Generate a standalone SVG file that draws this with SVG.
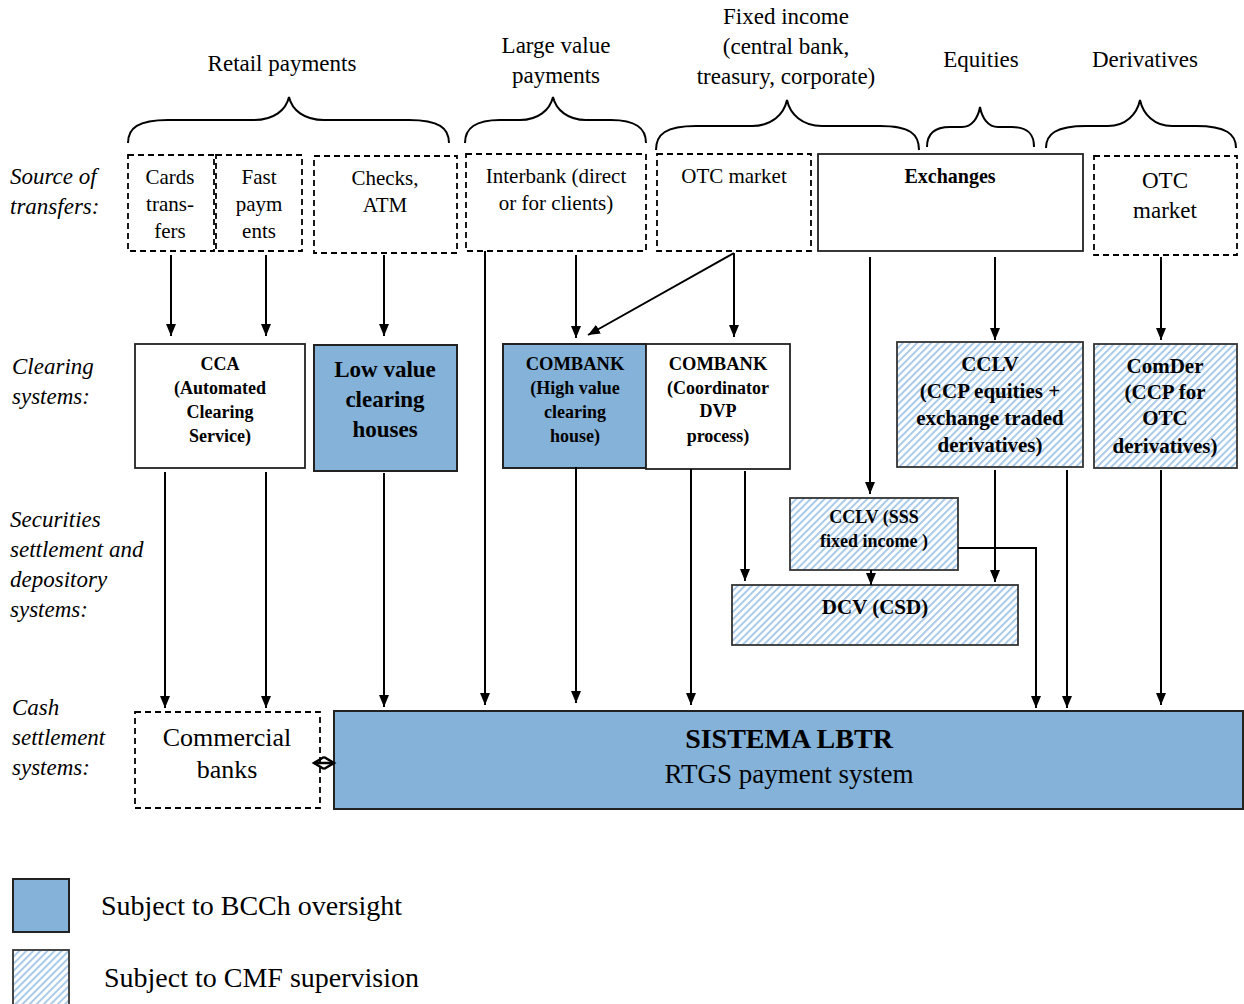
<svg xmlns="http://www.w3.org/2000/svg" width="1244" height="1004" viewBox="0 0 1244 1004">
<style>
text{font-family:"Liberation Serif","Times New Roman",serif;fill:#000}
.t{font-size:23px;text-anchor:middle}
.row{font-size:23px;font-style:italic}
.bx{font-size:21px;text-anchor:middle}
.b{font-weight:bold;text-anchor:middle}
.dash{fill:#fff;stroke:#000;stroke-width:1.8;stroke-dasharray:6 4}
.solid{fill:#fff;stroke:#222;stroke-width:1.8}
.blue{fill:#84b2d8;stroke:#222;stroke-width:2}
.hatch{fill:url(#hp);stroke:#333;stroke-width:1.8}
.brace{fill:none;stroke:#000;stroke-width:2}
.c line,.c path{stroke:#000;stroke-width:2;fill:none}
.arr{marker-end:url(#ah)}
</style>
<defs>
<marker id="ah" viewBox="0 0 12 10" refX="12" refY="5" markerWidth="12" markerHeight="10" markerUnits="userSpaceOnUse" orient="auto"><path d="M0,0 L12,5 L0,10 z" fill="#000"/></marker>
<pattern id="hp" width="5" height="5" patternUnits="userSpaceOnUse" patternTransform="rotate(45)"><rect width="5" height="5" fill="#fff"/><rect width="1.9" height="5" fill="#a6c8e8"/></pattern>
</defs>
<rect width="1244" height="1004" fill="#fff"/>

<g id="category-labels">
<text class="t" x="282" y="71">Retail payments</text>
<text class="t" x="556" y="53">Large value</text>
<text class="t" x="556" y="83">payments</text>
<text class="t" x="786" y="24">Fixed income</text>
<text class="t" x="786" y="54">(central bank,</text>
<text class="t" x="786" y="84">treasury, corporate)</text>
<text class="t" x="981" y="67">Equities</text>
<text class="t" x="1145" y="67">Derivatives</text>
</g>
<g id="braces">
<path class="brace" d="M128,143 C128,128 138,120 168,120 L254,120 C274,120 286,110 289,97 C292,110 304,120 324,120 L409,120 C439,120 449,128 449,143"/>
<path class="brace" d="M465,143 C465,128 475,120 500,120 L520,120 C538,120 550,110 553,97 C556,110 568,120 586,120 L611,120 C636,120 646,128 646,143"/>
<path class="brace" d="M656,150 C656,134 666,126 696,126 L752,126 C772,126 784,114 787,100 C790,114 802,126 822,126 L880,126 C910,126 919,134 919,150"/>
<path class="brace" d="M927,147 C927,134 934,127 950,127 L962,127 C972,127 978,118 980,107 C982,118 988,127 998,127 L1012,127 C1028,127 1034,134 1034,147"/>
<path class="brace" d="M1046,148 C1046,134 1056,126 1086,126 L1108,126 C1126,126 1137,114 1140,100 C1143,114 1154,126 1172,126 L1196,126 C1226,126 1236,134 1236,148"/>
</g>

<g id="row-labels">
<text class="row" x="10" y="184">Source of</text>
<text class="row" x="10" y="214">transfers:</text>
<text class="row" x="12" y="374">Clearing</text>
<text class="row" x="12" y="404">systems:</text>
<text class="row" x="10" y="527">Securities</text>
<text class="row" x="10" y="557">settlement and</text>
<text class="row" x="10" y="587">depository</text>
<text class="row" x="10" y="617">systems:</text>
<text class="row" x="12" y="715">Cash</text>
<text class="row" x="12" y="745">settlement</text>
<text class="row" x="12" y="775">systems:</text>
</g>

<g id="cards">
<rect class="dash" x="128" y="155" width="86" height="96"/>
<text class="bx" x="170" y="184">Cards</text>
<text class="bx" x="170" y="211">trans-</text>
<text class="bx" x="170" y="238">fers</text>
</g>
<g id="fast-payments">
<rect class="dash" x="216" y="155" width="86" height="96"/>
<text class="bx" x="259" y="184">Fast</text>
<text class="bx" x="259" y="211">paym</text>
<text class="bx" x="259" y="238">ents</text>
</g>
<g id="checks-atm">
<rect class="dash" x="314" y="156" width="143" height="97"/>
<text class="bx" x="385" y="185">Checks,</text>
<text class="bx" x="385" y="212">ATM</text>
</g>
<g id="interbank">
<rect class="dash" x="466" y="154" width="180" height="97"/>
<text class="bx" x="556" y="183">Interbank (direct</text>
<text class="bx" x="556" y="210">or for clients)</text>
</g>
<g id="otc-fixed">
<rect class="dash" x="657" y="154" width="154" height="97"/>
<text class="bx" x="734" y="183">OTC market</text>
</g>
<g id="exchanges">
<rect class="solid" x="818" y="154" width="265" height="97"/>
<text class="b" x="950" y="183" font-size="20">Exchanges</text>
</g>
<g id="otc-deriv">
<rect class="dash" x="1094" y="156" width="143" height="99"/>
<text class="t" x="1165" y="188">OTC</text>
<text class="t" x="1165" y="218">market</text>
</g>

<g id="cca">
<rect class="solid" x="135" y="344" width="170" height="124"/>
<text class="b" x="220" y="370" font-size="18">CCA</text>
<text class="b" x="220" y="394" font-size="18">(Automated</text>
<text class="b" x="220" y="418" font-size="18">Clearing</text>
<text class="b" x="220" y="442" font-size="18">Service)</text>
</g>
<g id="low-value">
<rect class="blue" x="314" y="345" width="143" height="126"/>
<text class="b" x="385" y="377" font-size="23">Low value</text>
<text class="b" x="385" y="407" font-size="23">clearing</text>
<text class="b" x="385" y="437" font-size="23">houses</text>
</g>
<g id="combank-hv">
<rect class="blue" x="503" y="344" width="143" height="124"/>
<text class="b" x="575" y="370" font-size="18.5">COMBANK</text>
<text class="b" x="575" y="394" font-size="18">(High value</text>
<text class="b" x="575" y="418" font-size="18">clearing</text>
<text class="b" x="575" y="442" font-size="18">house)</text>
</g>
<g id="combank-dvp">
<rect class="solid" x="646" y="344" width="144" height="125"/>
<text class="b" x="718" y="370" font-size="18.5">COMBANK</text>
<text class="b" x="718" y="394" font-size="18">(Coordinator</text>
<text class="b" x="718" y="417" font-size="18">DVP</text>
<text class="b" x="718" y="442" font-size="18">process)</text>
</g>
<g id="cclv-ccp">
<rect class="hatch" x="897" y="342" width="186" height="125"/>
<text class="b" x="990" y="371" font-size="21">CCLV</text>
<text class="b" x="990" y="398" font-size="21">(CCP equities +</text>
<text class="b" x="990" y="425" font-size="21">exchange traded</text>
<text class="b" x="990" y="452" font-size="21">derivatives)</text>
</g>
<g id="comder">
<rect class="hatch" x="1094" y="344" width="143" height="124"/>
<text class="b" x="1165" y="373" font-size="21">ComDer</text>
<text class="b" x="1165" y="399" font-size="21">(CCP for</text>
<text class="b" x="1165" y="425" font-size="21">OTC</text>
<text class="b" x="1165" y="453" font-size="21">derivatives)</text>
</g>

<g id="cclv-sss">
<rect class="hatch" x="790" y="498" width="168" height="72"/>
<text class="b" x="874" y="523" font-size="18">CCLV (SSS</text>
<text class="b" x="874" y="547" font-size="18">fixed income )</text>
</g>
<g id="dcv">
<rect class="hatch" x="732" y="585" width="286" height="60"/>
<text class="b" x="875" y="614" font-size="21">DCV (CSD)</text>
</g>

<g id="commercial-banks">
<rect class="dash" x="135" y="712" width="185" height="96"/>
<text class="t" x="227" y="746" style="font-size:26px">Commercial</text>
<text class="t" x="227" y="778" style="font-size:26px">banks</text>
</g>
<g id="lbtr">
<rect class="blue" x="334" y="711" width="909" height="98"/>
<text class="b" x="789" y="748" font-size="28">SISTEMA LBTR</text>
<text class="t" x="789" y="783" style="font-size:27px">RTGS payment system</text>
</g>

<g id="legend">
<rect class="blue" x="13" y="879" width="56" height="53"/>
<text x="101" y="915" style="font-size:28px">Subject to BCCh oversight</text>
<rect class="hatch" x="13" y="950" width="56" height="60"/>
<text x="104" y="987" style="font-size:28px">Subject to CMF supervision</text>
</g>

<g id="connectors" class="c">
<line class="arr" x1="171" y1="255" x2="171" y2="336"/>
<line class="arr" x1="266" y1="255" x2="266" y2="336"/>
<line class="arr" x1="384" y1="255" x2="384" y2="336"/>
<line class="arr" x1="485" y1="251" x2="485" y2="705"/>
<line class="arr" x1="576" y1="255" x2="576" y2="338"/>
<line class="arr" x1="734" y1="253" x2="588" y2="335"/>
<line class="arr" x1="734" y1="253" x2="734" y2="337"/>
<line class="arr" x1="870" y1="257" x2="870" y2="494"/>
<line class="arr" x1="995" y1="257" x2="995" y2="340"/>
<line class="arr" x1="1161" y1="257" x2="1161" y2="340"/>
<line class="arr" x1="165" y1="472" x2="165" y2="708"/>
<line class="arr" x1="266" y1="472" x2="266" y2="708"/>
<line class="arr" x1="384" y1="473" x2="384" y2="707"/>
<line class="arr" x1="576" y1="467" x2="576" y2="703"/>
<line class="arr" x1="691" y1="469" x2="691" y2="705"/>
<line class="arr" x1="745" y1="471" x2="745" y2="581"/>
<line class="arr" x1="871" y1="570" x2="871" y2="585"/>
<path class="arr" d="M958,548 L1036,548 L1036,708"/>
<line class="arr" x1="995" y1="470" x2="995" y2="582"/>
<line class="arr" x1="1067" y1="470" x2="1067" y2="708"/>
<line class="arr" x1="1161" y1="470" x2="1161" y2="705"/>
<path d="M314,763 L334,763" style="stroke-width:2.5"/>
<path d="M324,757 L314,763 L324,769" style="stroke-width:2.5"/>
<path d="M324,757 L334,763 L324,769" style="stroke-width:2.5"/>
</g>
</svg>
